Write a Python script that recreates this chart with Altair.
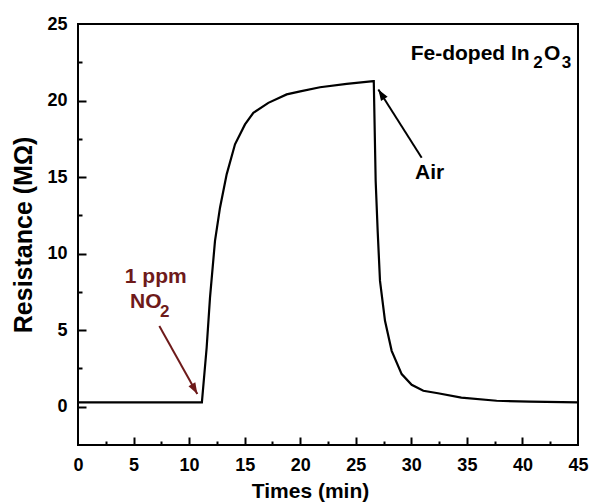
import altair as alt
import pandas as pd

# ---- data ----
time_min = [0.0, 11.15, 11.58, 11.88, 12.33, 12.78, 13.38, 14.13, 15.03, 15.78,
            17.13, 18.78, 20.0, 21.78, 24.18, 26.58, 26.62, 26.79, 26.97,
            27.18, 27.63, 28.23, 29.13, 30.03, 31.08, 32.4, 34.5, 37.68, 40.68, 45.0]
resistance = [0.28, 0.28, 3.87, 7.13, 10.83, 13.0, 15.18, 17.14, 18.44, 19.2,
              19.85, 20.4, 20.6, 20.87, 21.09, 21.27, 21.27, 14.74, 11.48,
              8.22, 5.61, 3.65, 2.13, 1.43, 1.04, 0.88, 0.6, 0.39, 0.33, 0.28]

x_labels = [0, 5, 10, 15, 20, 25, 30, 35, 40, 45]
y_labels = [0, 5, 10, 15, 20, 25]
x_major_ticks = [5, 10, 15, 20, 25, 30, 35, 40]
x_minor_ticks = [2.5, 7.5, 12.5, 17.5, 22.5, 27.5, 32.5, 37.5, 42.5]
y_major_ticks = [0, 5, 10, 15, 20]
y_minor_ticks = [2.5, 7.5, 12.5, 17.5, 22.5]

# annotations (data coordinates)
ann_black_text = ["Fe-doped In", "O", "Air"]
ann_black_t = [29.94, 41.95, 30.33]
ann_black_r = [22.63, 22.63, 14.87]
ann_black_sub = ["2", "3"]
ann_black_sub_t = [40.98, 43.53]
ann_black_sub_r = [22.13, 22.13]

ann_red_text = ["NO"]
ann_red_t = [4.68]
ann_red_r = [6.48]
ann_red_center_text = ["1 ppm"]
ann_red_center_t = [7.0]
ann_red_center_r = [8.11]
ann_red_sub = ["2"]
ann_red_sub_t = [7.38]
ann_red_sub_r = [5.83]

arrow_red = {"t": [7.32], "r": [5.28], "t2": [10.74], "r2": [0.83], "a": [150.9]}
arrow_black = {"t": [30.93], "r": [16.26], "t2": [27.03], "r2": [20.72], "a": [327.6]}

RED = "#6e1a1a"
FONT = "Liberation Sans"
W, H = 500, 421

df = pd.DataFrame({"t": time_min, "r": resistance, "i": list(range(len(time_min)))})

xs = alt.Scale(domain=[0, 45], nice=False, zero=False)
ys = alt.Scale(domain=[-2.5, 25], nice=False, zero=False)

line = alt.Chart(df).mark_line(color="black", strokeWidth=2.2).encode(
    x=alt.X("t:Q", scale=xs, axis=alt.Axis(
        orient="bottom", values=x_labels, ticks=False, domain=False, grid=False,
        labelFont=FONT, labelFontSize=18, labelFontWeight="bold", labelColor="black",
        labelPadding=11, labelFlush=False,
        title="Times (min)", titleFont=FONT, titleFontSize=21, titleFontWeight="bold",
        titleColor="black", titlePadding=6, titleX=232)),
    y=alt.Y("r:Q", scale=ys, axis=alt.Axis(
        orient="left", values=y_labels, ticks=False, domain=False, grid=False,
        labelFont=FONT, labelFontSize=18, labelFontWeight="bold", labelColor="black",
        labelPadding=11, labelFlush=False,
        title="Resistance (MΩ)", titleFont=FONT, titleFontSize=25, titleFontWeight="bold",
        titleColor="black", titlePadding=10)),
    order="i:Q",
)

def tick_layer(xv, yv, size):
    # inward ticks: a top axis moved to the bottom edge, a right axis moved to the left edge
    return alt.Chart(df).mark_line(opacity=0).encode(
        x=alt.X("t:Q", scale=xs, axis=alt.Axis(
            orient="top", offset=-H, values=xv, labels=False, domain=False, grid=False,
            title="", tickColor="black", tickWidth=2, tickSize=size)),
        y=alt.Y("r:Q", scale=ys, axis=alt.Axis(
            orient="right", offset=-W, values=yv, labels=False, domain=False, grid=False,
            title="", tickColor="black", tickWidth=2, tickSize=size)),
    )

def txt(texts, ts, rs, color, size, align="left"):
    d = pd.DataFrame({"t": ts, "r": rs, "s": texts})
    return alt.Chart(d).mark_text(
        font=FONT, fontSize=size, fontWeight="bold", color=color,
        align=align, baseline="alphabetic").encode(
        x=alt.X("t:Q", scale=xs, axis=None), y=alt.Y("r:Q", scale=ys, axis=None),
        text="s:N")

def arrow(d, color):
    d = pd.DataFrame(d)
    shaft = alt.Chart(d).mark_rule(color=color, strokeWidth=2).encode(
        x=alt.X("t:Q", scale=xs, axis=None), y=alt.Y("r:Q", scale=ys, axis=None),
        x2="t2:Q", y2="r2:Q")
    head = alt.Chart(d).mark_point(
        shape="M0,0L-0.35,1L0.35,1Z", filled=True, color=color, opacity=1, size=500).encode(
        x=alt.X("t2:Q", scale=xs, axis=None), y=alt.Y("r2:Q", scale=ys, axis=None),
        angle=alt.Angle("a:Q", scale=None))
    return shaft + head

chart = alt.layer(
    line,
    tick_layer(x_major_ticks, y_major_ticks, 8),
    tick_layer(x_minor_ticks, y_minor_ticks, 4),
    txt(ann_black_text, ann_black_t, ann_black_r, "black", 21),
    txt(ann_black_sub, ann_black_sub_t, ann_black_sub_r, "black", 17),
    txt(ann_red_text, ann_red_t, ann_red_r, RED, 21),
    txt(ann_red_center_text, ann_red_center_t, ann_red_center_r, RED, 21, align="center"),
    txt(ann_red_sub, ann_red_sub_t, ann_red_sub_r, RED, 17),
    arrow(arrow_red, RED),
    arrow(arrow_black, "black"),
).resolve_axis(x="independent", y="independent").properties(
    width=W, height=H,
    autosize=alt.AutoSizeParams(type="none"),
    padding={"left": 78, "top": 24, "right": 12, "bottom": 59},
    background="white",
).configure_view(stroke="black", strokeWidth=2)

chart.save("out.html", embed_options={"renderer": "svg", "actions": False})
